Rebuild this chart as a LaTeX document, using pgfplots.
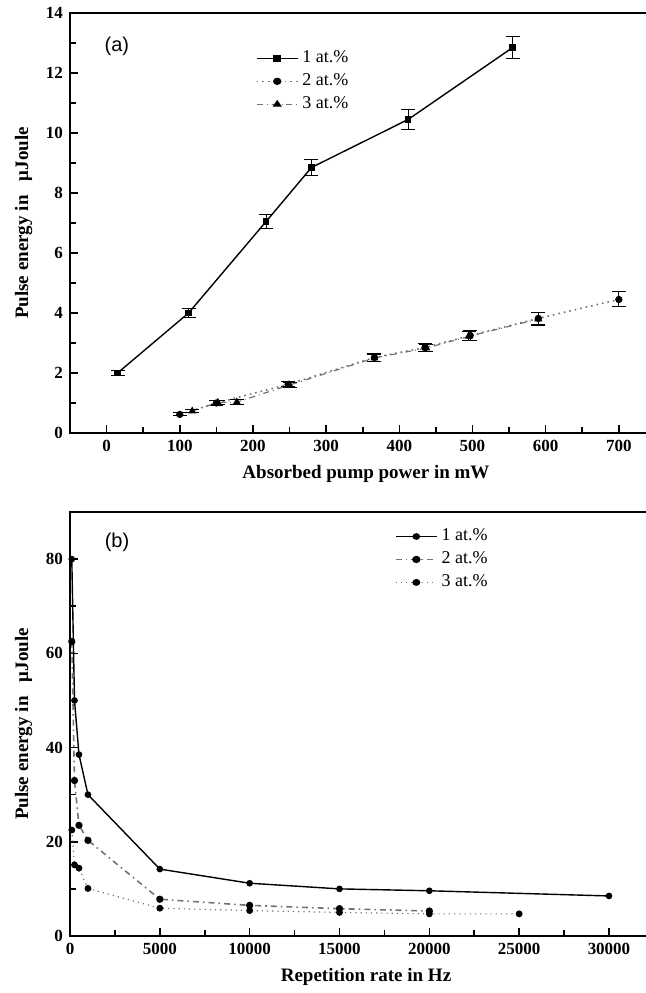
\documentclass[border=0pt]{standalone}
\usepackage{fontspec}
\setmainfont{Liberation Serif}
\newfontfamily\panelfont{Liberation Sans}
\usepackage{pgfplots}
\pgfplotsset{compat=1.18}

\definecolor{linegray}{gray}{0.45}

\pgfplotsset{
  paneldefaults/.style={
    scale only axis,
    axis line style={line width=1pt, black},
    tick style={line width=0.8pt, black},
    major tick length=4pt,
    minor tick length=3pt,
    tick align=inside,
    xtick pos=bottom,
    ytick pos=left,
    ticklabel style={font=\fontsize{8.5}{9}\selectfont\bfseries},
    /pgf/number format/assume math mode=true,
    /pgf/number format/1000 sep={},
    scaled x ticks=false,
    label style={font=\fontsize{9.5}{11}\selectfont\bfseries},
    legend style={draw=none, fill=none, font=\fontsize{9}{10}\selectfont,
      row sep=0pt, inner sep=1pt},
    legend image post style={xscale=1.2},
    legend cell align=left,
    clip=false,
  },
  s1/.style={black, line width=0.7pt, mark=square*, mark size=1.3pt,
    mark options={solid}},
  s2/.style={linegray, dotted, line width=0.8pt, mark=*, mark size=1.4pt,
    mark options={solid, black}},
  s3/.style={linegray, dash dot, line width=0.6pt, mark=triangle*, mark size=1.7pt,
    mark options={solid, black}},
  ebar/.style={error bars/.cd, y dir=both, y explicit,
    error bar style={black, solid, line width=0.5pt},
    error mark options={rotate=90, mark size=3.5pt, black, line width=0.5pt}},
}

\begin{document}
\begin{tikzpicture}
\useasboundingbox (0pt,0pt) rectangle (322.5pt,496.5pt);

% (a) pulse energy versus absorbed pump power
\begin{axis}[paneldefaults,
  at={(35pt,280pt)}, anchor=south west,
  width=296pt, height=210pt,
  xmin=-50, xmax=759, ymin=0, ymax=14,
  xtick={0,100,...,700}, ytick={0,2,...,14},
  minor x tick num=1, minor y tick num=1,
  xlabel={Absorbed pump power in mW},
  ylabel={Pulse energy in \ \ μJoule},
  legend style={at={(0.31,0.925)}, anchor=north west},
]
\addplot+[s1, ebar] coordinates {
  (15,2.0) +- (0,0.08)
  (112,4.0) +- (0,0.15)
  (218,7.05) +- (0,0.22)
  (280,8.85) +- (0,0.25)
  (412,10.45) +- (0,0.33)
  (555,12.85) +- (0,0.38)
};
\addplot+[s2, ebar] coordinates {
  (100,0.62) +- (0,0.05)
  (150,1.0) +- (0,0.07)
  (248,1.62) +- (0,0.08)
  (366,2.52) +- (0,0.12)
  (435,2.85) +- (0,0.12)
  (497,3.25) +- (0,0.15)
  (590,3.82) +- (0,0.2)
  (700,4.45) +- (0,0.25)
};
\addplot+[s3, ebar] coordinates {
  (117,0.73) +- (0,0.05)
  (152,1.02) +- (0,0.07)
  (178,1.03) +- (0,0.07)
  (250,1.6) +- (0,0.08)
  (366,2.5) +- (0,0.12)
  (437,2.83) +- (0,0.12)
  (495,3.22) +- (0,0.15)
  (590,3.8) +- (0,0.2)
};
\legend{1 at.\%, 2 at.\%, 3 at.\%}
\node[font=\panelfont\fontsize{10}{12}\selectfont] at (axis cs:14,12.9) {(a)};
\end{axis}

% (b) pulse energy versus repetition rate
\begin{axis}[paneldefaults,
  at={(35pt,28.5pt)}, anchor=south west,
  width=296pt, height=212pt,
  xmin=0, xmax=32950, ymin=0, ymax=90,
  xtick={0,5000,...,30000}, ytick={0,20,...,80},
  minor x tick num=1, minor y tick num=1,
  xlabel={Repetition rate in Hz},
  ylabel={Pulse energy in \ \ μJoule},
  legend style={at={(0.545,0.975)}, anchor=north west},
]
\addplot+[s1, mark=*] coordinates {
  (100,80) (250,50) (500,38.5) (1000,30) (5000,14.2)
  (10000,11.2) (15000,10) (20000,9.6) (30000,8.5)
};
\addplot+[s2, dash dot, mark=*] coordinates {
  (100,62.5) (250,33) (500,23.5) (1000,20.3) (5000,7.8)
  (10000,6.5) (15000,5.8) (20000,5.3)
};
\addplot+[s3, dotted, mark=*, mark size=1.4pt] coordinates {
  (100,22.5) (250,15.1) (500,14.4) (1000,10.1) (5000,5.9)
  (10000,5.4) (15000,5.0) (20000,4.7) (25000,4.7)
};
\legend{1 at.\%, 2 at.\%, 3 at.\%}
\node[font=\panelfont\fontsize{10}{12}\selectfont] at (axis cs:2616,83.6) {(b)};
\end{axis}
\end{tikzpicture}
\end{document}
